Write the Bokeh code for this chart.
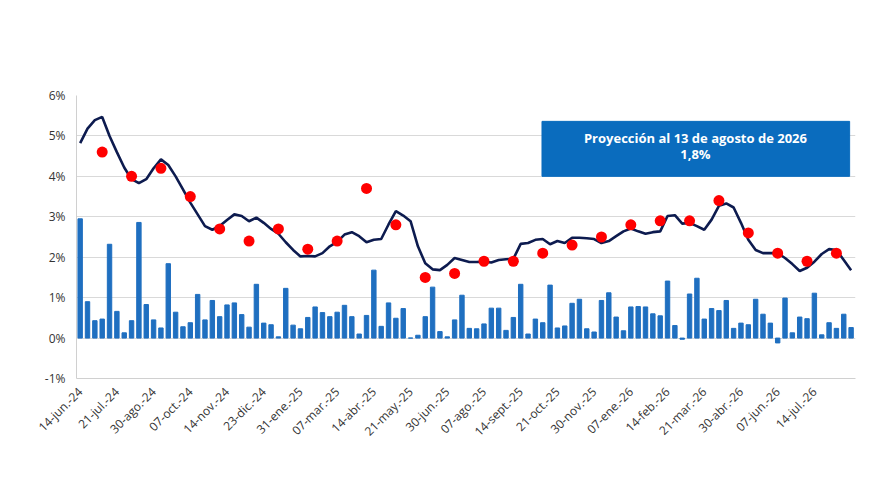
import math
from bokeh.plotting import figure
from bokeh.models import FixedTicker, Label, Range1d, CustomJSTickFormatter
from bokeh.core.properties import value
from bokeh.embed import file_html
from bokeh.resources import INLINE

weekly = [2.95,0.9,0.43,0.47,2.32,0.66,0.13,0.43,2.86,0.83,0.45,0.25,1.84,0.64,0.28,0.38,1.08,0.45,0.93,0.53,
          0.82,0.87,0.58,0.27,1.33,0.37,0.33,0.03,1.23,0.32,0.23,0.51,0.77,0.63,0.53,0.64,0.81,0.53,0.1,0.56,
          1.68,0.29,0.87,0.49,0.73,0.0,0.07,0.53,1.26,0.16,0.03,0.45,1.06,0.24,0.23,0.35,0.74,0.74,0.19,0.51,
          1.33,0.1,0.47,0.38,1.31,0.25,0.3,0.86,0.96,0.23,0.15,0.93,1.12,0.52,0.18,0.77,0.78,0.77,0.6,0.55,
          1.41,0.31,-0.03,1.09,1.48,0.47,0.73,0.68,0.93,0.24,0.37,0.33,0.96,0.59,0.37,-0.12,0.99,0.13,0.52,0.48,
          1.11,0.08,0.38,0.24,0.59,0.26]
monthly = [4.82,5.18,5.39,5.47,5.0,4.6,4.22,3.93,3.83,3.93,4.2,4.42,4.28,4.0,3.68,3.35,3.06,2.77,2.68,2.77,
           2.92,3.06,3.02,2.89,2.98,2.85,2.7,2.58,2.37,2.18,2.02,2.03,2.02,2.1,2.27,2.38,2.56,2.62,2.52,2.37,
           2.43,2.45,2.81,3.14,3.03,2.89,2.27,1.85,1.7,1.68,1.81,1.98,1.93,1.88,1.88,1.89,1.87,1.93,1.95,1.96,
           2.33,2.35,2.43,2.45,2.32,2.4,2.35,2.48,2.48,2.47,2.45,2.35,2.4,2.52,2.64,2.71,2.64,2.58,2.62,2.64,
           3.02,3.04,2.83,2.85,2.77,2.68,2.93,3.27,3.33,3.23,2.85,2.43,2.18,2.1,2.1,2.1,1.98,1.83,1.66,1.74,
           1.89,2.08,2.2,2.18,1.93,1.68]
ipc_weeks = [4,8,12,16,20,24,28,32,36,40,44,48,52,56,60,64,68,72,76,80,84,88,92,96,100,104]
ipc_vals = [4.6,4.0,4.2,3.5,2.7,2.4,2.7,2.2,2.4,3.7,2.8,1.5,1.6,1.9,1.9,2.1,2.3,2.5,2.8,2.9,2.9,3.4,2.6,2.1,1.9,2.1]
tick_labels = ["14-jun.-24","21-jul.-24","30-ago.-24","07-oct.-24","14-nov.-24","23-dic.-24","31-ene.-25",
               "07-mar.-25","14-abr.-25","21-may.-25","30-jun.-25","07-ago.-25","14-sept.-25","21-oct.-25",
               "30-nov.-25","07-ene.-26","14-feb.-26","21-mar.-26","30-abr.-26","07-jun.-26","14-jul.-26"]
idx = list(range(1, len(weekly) + 1))
tick_pos = [1 + 5 * i for i in range(len(tick_labels))]

F = "Open Sans"
BLUE = "#1F6FC0"
W, H = 886, 483
p = figure(width=W, height=H, output_backend="svg", toolbar_location=None,
           x_range=Range1d(0.5, 106.6), y_range=Range1d(-1, 6),
           min_border_left=76, min_border_right=W - 855, min_border_top=95, min_border_bottom=105)
p.outline_line_color = None

p.vbar(x=idx, top=weekly, width=0.6, color=BLUE)
p.line(idx, monthly, line_color="#0D1B4F", line_width=2.6)
p.scatter(ipc_weeks, ipc_vals, size=11, color="#FF0000", line_color=None)

p.quad(left=63.9, right=105.8, bottom=4.0, top=5.36, color="#0A6CBE")
p.text(x=[84.8], y=[4.95], text=["Proyección al 13 de agosto de 2026"], text_color="white",
       text_font=value(F), text_font_style="bold", text_font_size="13px", text_align="center", text_baseline="middle")
p.text(x=[84.8], y=[4.55], text=["1,8%"], text_color="white",
       text_font=value(F), text_font_style="bold", text_font_size="13px", text_align="center", text_baseline="middle")

p.yaxis.ticker = FixedTicker(ticks=[-1,0,1,2,3,4,5,6])
p.yaxis.formatter = CustomJSTickFormatter(code="return tick + '%';")
p.xaxis.ticker = FixedTicker(ticks=tick_pos)
p.xaxis.major_label_overrides = {t: l for t, l in zip(tick_pos, tick_labels)}
p.xaxis.major_label_orientation = math.pi / 4
for ax in (p.xaxis, p.yaxis):
    ax.major_label_text_font = F
    ax.major_label_text_font_size = "12px"
    ax.major_label_text_color = "#333333"
    ax.major_tick_line_color = None
    ax.minor_tick_line_color = None
p.xaxis.axis_line_color = "#D0D0D0"
p.yaxis.axis_line_color = "#D0D0D0"
p.xgrid.grid_line_color = None
p.ygrid.grid_line_color = "#D9D9D9"
p.ygrid.ticker = FixedTicker(ticks=[-1,0,1,2,3,4,5,6])

def lab(x, y, t, size, color="#333333", style="normal", align="left"):
    p.add_layout(Label(x=x, y=y, x_units="screen", y_units="screen", text=t, text_font=F,
                       text_font_style=style, text_font_size=size, text_color=color,
                       text_align=align, text_baseline="middle"))

# frame-relative screen coordinates (frame bottom-left origin, frame height 283)
lab(344, 353, "INDICE DE PRECIOS AL CONSUMIDOR LYP", "19px", "#E8141B", "bold", "center")
lab(344, 328, "Variación mensual y semanal. Junio 2024 – agosto 2026.", "17px", "#333333", "normal", "center")
lab(344, -89, "Fuente: Libertad y Progreso en base a INDEC y estimaciones propias.", "15px", "#333333", "normal", "center")
# legend
lab(78, 305, "▆▆", "13px", BLUE)
lab(104, 305, "Variación Semanal", "13px")
lab(253, 306, "▬▬", "13px", "#0D1B4F", "bold")
lab(279, 305, "Variación Mensual (Promedio 4 semanas)", "13px")
lab(591, 305, "●", "13px", "#FF0000", "normal", "center")
lab(602, 305, "IPC INDEC", "13px")

open("out.html", "w").write(file_html(p, INLINE))
